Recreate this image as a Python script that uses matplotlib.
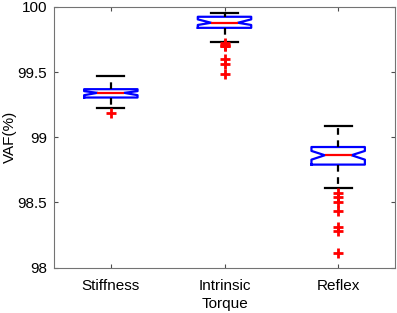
import matplotlib
matplotlib.use("Agg")
import matplotlib.pyplot as plt

plt.rcParams['font.family'] = ['Liberation Sans', 'DejaVu Sans']

# data (VAF %)
groups = ['Stiffness', 'Intrinsic', 'Reflex']
q1 = [99.305, 99.84, 98.79]
med = [99.341, 99.879, 98.862]
q3 = [99.369, 99.925, 98.925]
whislo = [99.228, 99.733, 98.613]
whishi = [99.469, 99.956, 99.09]
cilo = [99.323, 99.862, 98.828]
cihi = [99.354, 99.905, 98.895]
fliers = [
    [99.187],
    [99.722, 99.712, 99.703, 99.698, 99.60, 99.56, 99.485],
    [98.572, 98.545, 98.502, 98.43, 98.31, 98.277, 98.115],
]

stats = []
for i, name in enumerate(groups):
    stats.append({'label': name, 'q1': q1[i], 'med': med[i], 'q3': q3[i],
                  'whislo': whislo[i], 'whishi': whishi[i],
                  'cilo': cilo[i], 'cihi': cihi[i], 'fliers': fliers[i]})

fig = plt.figure(figsize=(3.97, 3.13), dpi=100)
ax = fig.add_axes([54 / 397, 1 - 267.5 / 313, 341 / 397, 260.5 / 313])

ax.bxp(stats, shownotches=True, widths=0.47,
       boxprops=dict(color='blue', linewidth=1.6),
       medianprops=dict(color='red', linewidth=1.6),
       whiskerprops=dict(color='black', linewidth=1.6, linestyle=(0, (3, 2.5))),
       capprops=dict(color='black', linewidth=1.6),
       flierprops=dict(marker='+', markeredgecolor='red', markersize=7,
                       markeredgewidth=2, linestyle='none'))

ax.set_xlim(0.5, 3.5)
ax.set_ylim(98, 100)
ax.set_yticks([98, 98.5, 99, 99.5, 100])
ax.set_yticklabels(['98', '98.5', '99', '99.5', '100'])
ax.tick_params(direction='in', length=3, width=0.8, color='0.3',
               labelsize=11, top=True, right=True)
ax.tick_params(axis='x', pad=8)
ax.tick_params(axis='y', pad=5)
for sp in ax.spines.values():
    sp.set_color('0.45')
    sp.set_linewidth(0.8)
ax.set_xlabel('Torque', fontsize=11, va='center')
ax.set_ylabel('VAF(%)', fontsize=11, va='center')
ax.xaxis.set_label_coords(0.5, -0.14)
ax.yaxis.set_label_coords(-0.13, 0.5)

fig.savefig('out.png', dpi=100)
